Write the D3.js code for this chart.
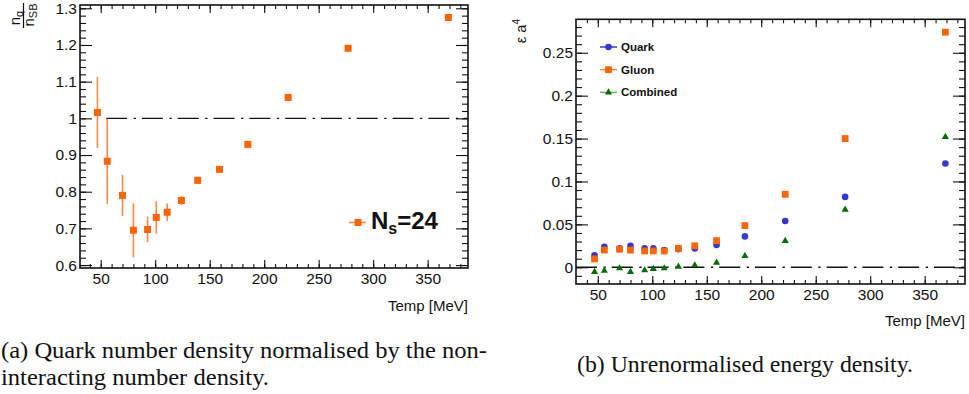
<!DOCTYPE html>
<html>
<head>
<meta charset="utf-8">
<script src="https://cdn.jsdelivr.net/npm/d3@7"></script>
<style>
  body { margin: 0; background: #fff; }
  svg { display: block; }
</style>
</head>
<body>
<div id="chart"></div>
<script>
// data
var temps = [47, 56, 70, 80, 93, 101, 111, 124, 139, 159, 185, 222, 277, 369];
var nqRatio = [1.016, 0.883, 0.790, 0.695, 0.697, 0.730, 0.744, 0.776, 0.831, 0.861, 0.929, 1.057, 1.191, 1.275];
var nqErr = [0.097, 0.116, 0.056, 0.074, 0.035, 0.044, 0.024, 0.012, 0.010, 0.005, 0, 0, 0, 0];
var quark = [0.014, 0.024, 0.022, 0.025, 0.022, 0.022, 0.020, 0.021, 0.022, 0.026, 0.036, 0.054, 0.082, 0.121];
var gluon = [0.0097, 0.020, 0.021, 0.020, 0.019, 0.019, 0.019, 0.022, 0.025, 0.031, 0.0486, 0.085, 0.150, 0.274];
var combined = [-0.0054, -0.0039, -0.0012, -0.0054, -0.0035, -0.0019, -0.0012, 0.0008, 0.0023, 0.0054, 0.0132, 0.0307, 0.0672, 0.152];
var xMajor = [50, 100, 150, 200, 250, 300, 350];
var leftYMajor = [0.6, 0.7, 0.8, 0.9, 1, 1.1, 1.2, 1.3];
var rightYMajor = [0, 0.05, 0.1, 0.15, 0.2, 0.25];
var seriesNames = ["Quark", "Gluon", "Combined"];

var W = 969, H = 394;
var orange = "#ff6400", blue = "#3636d2", green = "#006e00";
var sans = "'Liberation Sans', Arial, Helvetica, sans-serif";
var serif = "'Liberation Serif', 'Times New Roman', serif";

var svg = d3.select("#chart").append("svg")
  .attr("width", W)
  .attr("height", H);

// ROOT style frame: inward ticks on all four sides
function drawAxes(g, x, y, xMaj, xMin, yMaj, yMin, yFmt, xTick, yTick) {
  var y0 = y.range()[0], y1 = y.range()[1];
  var x0 = x.range()[0], x1 = x.range()[1];
  var axes = [
    [d3.axisBottom(x).tickValues(xMaj).tickSize(-xTick).tickPadding(5).tickFormat(d3.format("d")), 0, y0],
    [d3.axisBottom(x).tickValues(xMin).tickSize(-xTick / 2).tickFormat(""), 0, y0],
    [d3.axisTop(x).tickValues(xMaj).tickSize(-xTick).tickFormat(""), 0, y1],
    [d3.axisTop(x).tickValues(xMin).tickSize(-xTick / 2).tickFormat(""), 0, y1],
    [d3.axisLeft(y).tickValues(yMaj).tickSize(-yTick).tickPadding(3).tickFormat(yFmt), x0, 0],
    [d3.axisLeft(y).tickValues(yMin).tickSize(-yTick / 2).tickFormat(""), x0, 0],
    [d3.axisRight(y).tickValues(yMaj).tickSize(-yTick).tickFormat(""), x1, 0],
    [d3.axisRight(y).tickValues(yMin).tickSize(-yTick / 2).tickFormat(""), x1, 0]
  ];
  axes.forEach(function(a) {
    var ag = g.append("g")
      .attr("transform", "translate(" + a[1] + "," + a[2] + ")")
      .call(a[0]);
    ag.select(".domain").remove();
    ag.attr("font-family", sans).attr("font-size", 15.5);
    ag.selectAll("line").attr("stroke", "#111").attr("stroke-width", 1.1);
    ag.selectAll("text").attr("fill", "#111");
  });
  g.append("rect")
    .attr("x", x0).attr("y", y1)
    .attr("width", x1 - x0).attr("height", y0 - y1)
    .attr("fill", "none")
    .attr("stroke", "#111")
    .attr("stroke-width", 1.6);
}

function yFormat(d) { return d3.format("")(+d.toFixed(2)); }

// ---------------- panel (a) ----------------
var xa = d3.scaleLinear().domain([31, 387]).range([80, 468]);
var ya = d3.scaleLinear().domain([0.592, 1.309]).range([268, 5]);
var ga = svg.append("g");

// reference line at 1
ga.append("line")
  .attr("x1", xa(55)).attr("x2", xa(387))
  .attr("y1", ya(1)).attr("y2", ya(1))
  .attr("stroke", "#111").attr("stroke-width", 1.3)
  .attr("stroke-dasharray", "21,6.5,2.3,6");

drawAxes(ga, xa, ya, xMajor, d3.range(40, 387, 10),
  leftYMajor, d3.range(0.6, 1.305, 0.02), yFormat, 8, 12);

var pa = temps.map(function(t, i) { return {t: t, v: nqRatio[i], e: nqErr[i]}; });

ga.selectAll(".err").data(pa.filter(function(d) { return d.e > 0; }))
  .enter().append("line")
  .attr("class", "err")
  .attr("x1", function(d) { return xa(d.t); })
  .attr("x2", function(d) { return xa(d.t); })
  .attr("y1", function(d) { return ya(d.v - d.e); })
  .attr("y2", function(d) { return ya(d.v + d.e); })
  .attr("stroke", "#f7894a").attr("stroke-width", 1.6);

ga.selectAll(".pt").data(pa).enter().append("path")
  .attr("class", "pt")
  .attr("transform", function(d) { return "translate(" + xa(d.t) + "," + ya(d.v) + ")"; })
  .attr("d", d3.symbol(d3.symbolSquare, 49))
  .attr("fill", orange);

// legend N_s=24
ga.append("line").attr("x1", 349).attr("x2", 366).attr("y1", 222.5).attr("y2", 222.5)
  .attr("stroke", "#f7894a").attr("stroke-width", 1.5);
ga.append("path").attr("transform", "translate(358,222.5)")
  .attr("d", d3.symbol(d3.symbolSquare, 49)).attr("fill", orange);
var ns = ga.append("text").attr("x", 371).attr("y", 229)
  .attr("font-family", sans).attr("font-weight", "bold").attr("font-size", 24).attr("fill", "#111");
ns.append("tspan").text("N");
ns.append("tspan").attr("font-size", 16).attr("dy", 5).text("s");
ns.append("tspan").attr("dy", -5).text("=24");

// axis titles
ga.append("text").attr("x", 468).attr("y", 311).attr("text-anchor", "end")
  .attr("font-family", sans).attr("font-size", 15).attr("fill", "#111").text("Temp [MeV]");
var yl = ga.append("g").attr("font-family", sans).attr("fill", "#111");
var num = yl.append("text").attr("transform", "translate(20,18) rotate(-90)")
  .attr("text-anchor", "middle").attr("font-size", 15);
num.append("tspan").text("n");
num.append("tspan").attr("font-size", 11).attr("dy", 3).text("q");
var den = yl.append("text").attr("transform", "translate(34,15) rotate(-90)")
  .attr("text-anchor", "middle").attr("font-size", 15);
den.append("tspan").text("n");
den.append("tspan").attr("font-size", 11).attr("dy", 3).text("SB");
yl.append("line").attr("x1", 23.5).attr("x2", 23.5).attr("y1", 3).attr("y2", 28)
  .attr("stroke", "#111").attr("stroke-width", 1.2);

// ---------------- panel (b) ----------------
var xb = d3.scaleLinear().domain([30, 387]).range([576, 965]);
var yb = d3.scaleLinear().domain([-0.0195, 0.289]).range([284, 19.3]);
var gb = svg.append("g");

gb.append("line")
  .attr("x1", xb(30)).attr("x2", xb(387))
  .attr("y1", yb(0)).attr("y2", yb(0))
  .attr("stroke", "#111").attr("stroke-width", 1.3)
  .attr("stroke-dasharray", "21,6.5,2.3,6");

drawAxes(gb, xb, yb, xMajor, d3.range(40, 387, 10),
  rightYMajor, d3.range(-0.01, 0.285, 0.01), yFormat, 8, 12);

var series = [
  {name: seriesNames[0], vals: quark, color: blue, sym: d3.symbolCircle, size: 34, line: "#3a3ad6"},
  {name: seriesNames[1], vals: gluon, color: orange, sym: d3.symbolSquare, size: 46, line: "#f7894a"},
  {name: seriesNames[2], vals: combined, color: green, sym: d3.symbolTriangle, size: 22, line: "#6ab46a"}
];

series.forEach(function(s, k) {
  gb.append("g").selectAll("path").data(temps).enter().append("path")
    .attr("transform", function(t, i) { return "translate(" + xb(t) + "," + yb(s.vals[i]) + ")"; })
    .attr("d", d3.symbol(s.sym, s.size))
    .attr("fill", s.color);

  var ly = 47 + k * 22.7;
  gb.append("line").attr("x1", 600).attr("x2", 617).attr("y1", ly).attr("y2", ly)
    .attr("stroke", s.line).attr("stroke-width", 1.5);
  gb.append("path").attr("transform", "translate(608.5," + ly + ")")
    .attr("d", d3.symbol(s.sym, s.size)).attr("fill", s.color);
  gb.append("text").attr("x", 621).attr("y", ly + 4)
    .attr("font-family", sans).attr("font-weight", "bold").attr("font-size", 11.5)
    .attr("fill", "#111").text(s.name);
});

gb.append("text").attr("x", 965).attr("y", 326).attr("text-anchor", "end")
  .attr("font-family", sans).attr("font-size", 15).attr("fill", "#111").text("Temp [MeV]");
var el = gb.append("text").attr("transform", "translate(526,19) rotate(-90)")
  .attr("text-anchor", "end").attr("font-family", sans).attr("font-size", 14.5).attr("fill", "#111");
el.append("tspan").text("ε a");
el.append("tspan").attr("font-size", 10).attr("dy", -6).text("4");

// ---------------- captions ----------------
function caption(x, y, len, txt) {
  svg.append("text").attr("x", x).attr("y", y)
    .attr("font-family", serif).attr("font-size", 23).attr("fill", "#111")
    .attr("textLength", len).attr("lengthAdjust", "spacingAndGlyphs")
    .text(txt);
}
caption(1, 358, 486, "(a) Quark number density normalised by the non-");
caption(1, 385, 268, "interacting number density.");
caption(577, 372, 336, "(b) Unrenormalised energy density.");
</script>
</body>
</html>
